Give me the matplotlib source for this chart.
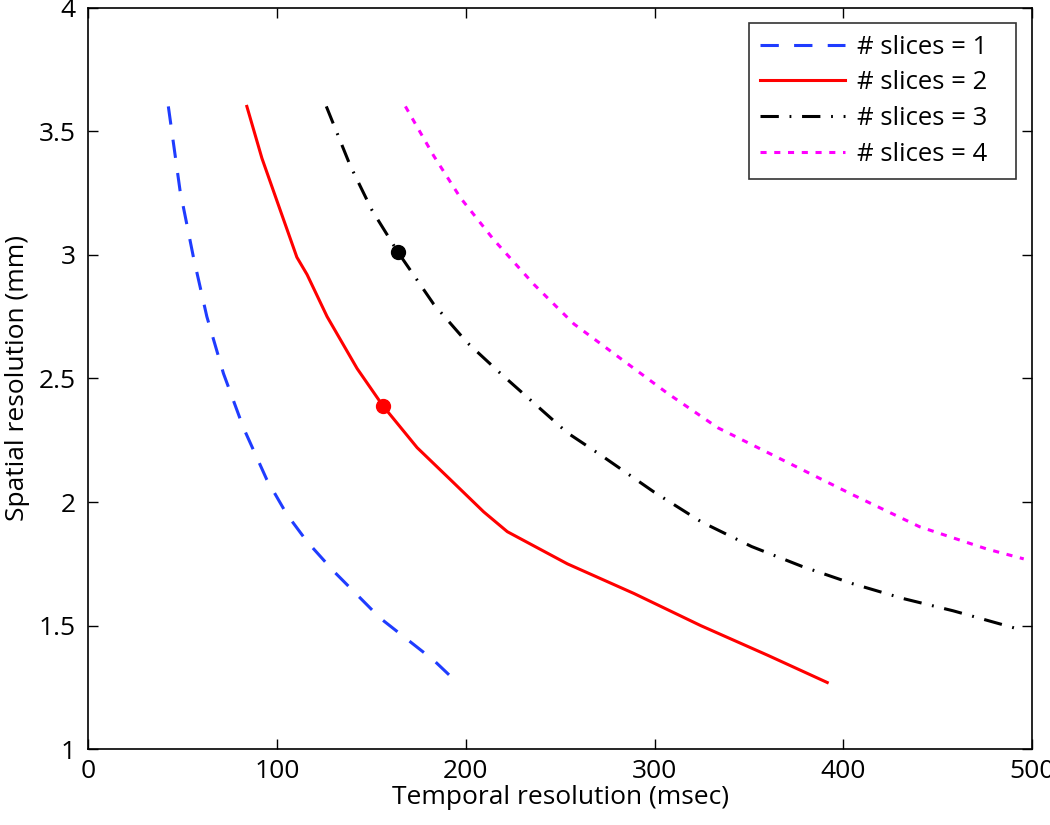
import matplotlib
matplotlib.use('Agg')
import matplotlib.pyplot as plt

plt.rcParams['font.family'] = ['Open Sans', 'DejaVu Sans']

# Curves (temporal resolution in msec, spatial resolution in mm)
t1 = [42.4, 48.6, 55.7, 62.8, 71.6, 82.2, 94.6, 105.2, 115.9, 130.0, 154.7, 183.0, 195.4]
s1 = [3.60, 3.26, 2.99, 2.75, 2.52, 2.30, 2.09, 1.95, 1.84, 1.72, 1.53, 1.36, 1.27]

t2 = [84.0, 92.0, 101.7, 110.5, 115.9, 126.5, 142.4, 156.0, 174.2, 191.9, 209.5, 222.0,
      253.8, 289.1, 324.5, 360.0, 391.5]
s2 = [3.60, 3.39, 3.18, 2.99, 2.92, 2.75, 2.54, 2.39, 2.22, 2.09, 1.96, 1.88,
      1.75, 1.63, 1.50, 1.38, 1.27]

t3 = [126.1, 138.8, 150.3, 164.1, 183.0, 200.7, 218.4, 236.1, 253.8, 271.5, 299.8,
      324.7, 351.4, 378.0, 404.8, 431.5, 458.2, 495.6]
s3 = [3.60, 3.36, 3.18, 3.01, 2.80, 2.645, 2.52, 2.40, 2.28, 2.19, 2.04,
      1.92, 1.82, 1.74, 1.67, 1.61, 1.56, 1.48]

t4 = [168.0, 183.0, 197.2, 214.9, 236.1, 257.3, 280.3, 306.8, 333.6, 369.2, 404.8,
      440.4, 476.0, 495.6]
s4 = [3.60, 3.40, 3.23, 3.06, 2.88, 2.72, 2.59, 2.44, 2.30, 2.165, 2.03,
      1.90, 1.81, 1.77]

labels = ['# slices = 1', '# slices = 2', '# slices = 3', '# slices = 4']

# highlighted operating points
pt2 = (156.0, 2.39)
pt3 = (164.1, 3.01)

fig = plt.figure(figsize=(10.5, 8.25), dpi=100)
ax = fig.add_axes([0.0841, 0.0918, 0.8988, 0.8991])

ax.plot(t1, s1, color='#1f3cff', linestyle=(0, (6, 5)), lw=2.2, label=labels[0])
ax.plot(t2, s2, color='#ff0000', linestyle='-', lw=2.2, label=labels[1])
ax.plot(t3, s3, color='black', linestyle=(0, (6, 3.5, 0.6, 3.5)), lw=2.2, label=labels[2])
ax.plot(t4, s4, color='#ff00ff', linestyle=(0, (2, 2.5)), lw=2.2, label=labels[3])

ax.plot(*pt2, 'o', color='#ff0000', ms=10)
ax.plot(*pt3, 'o', color='black', ms=10)

ax.set_xlim(0, 500)
ax.set_ylim(1, 4)
ax.set_xticks([0, 100, 200, 300, 400, 500])
ax.set_yticks([1, 1.5, 2, 2.5, 3, 3.5, 4])
ax.set_yticklabels(['1', '1.5', '2', '2.5', '3', '3.5', '4'])
ax.tick_params(direction='in', length=7, width=1, top=True, right=True, labelsize=19)
ax.tick_params(axis='y', pad=9)
ax.tick_params(axis='x', pad=7)
for sp in ax.spines.values():
    sp.set_linewidth(1.2)

ax.set_xlabel('Temporal resolution (msec)', fontsize=19, labelpad=1)
ax.set_ylabel('Spatial resolution (mm)', fontsize=19, labelpad=6)

leg = ax.legend(loc='upper left', bbox_to_anchor=(0.700, 0.979, 0.283, 0.0), mode='expand',
                fontsize=18.5, frameon=True, fancybox=False, edgecolor='black',
                handlelength=3.3, borderpad=0.45, labelspacing=0.42, handletextpad=0.45,
                borderaxespad=0)
leg.get_frame().set_linewidth(1.2)

fig.savefig('out.png', dpi=100)
